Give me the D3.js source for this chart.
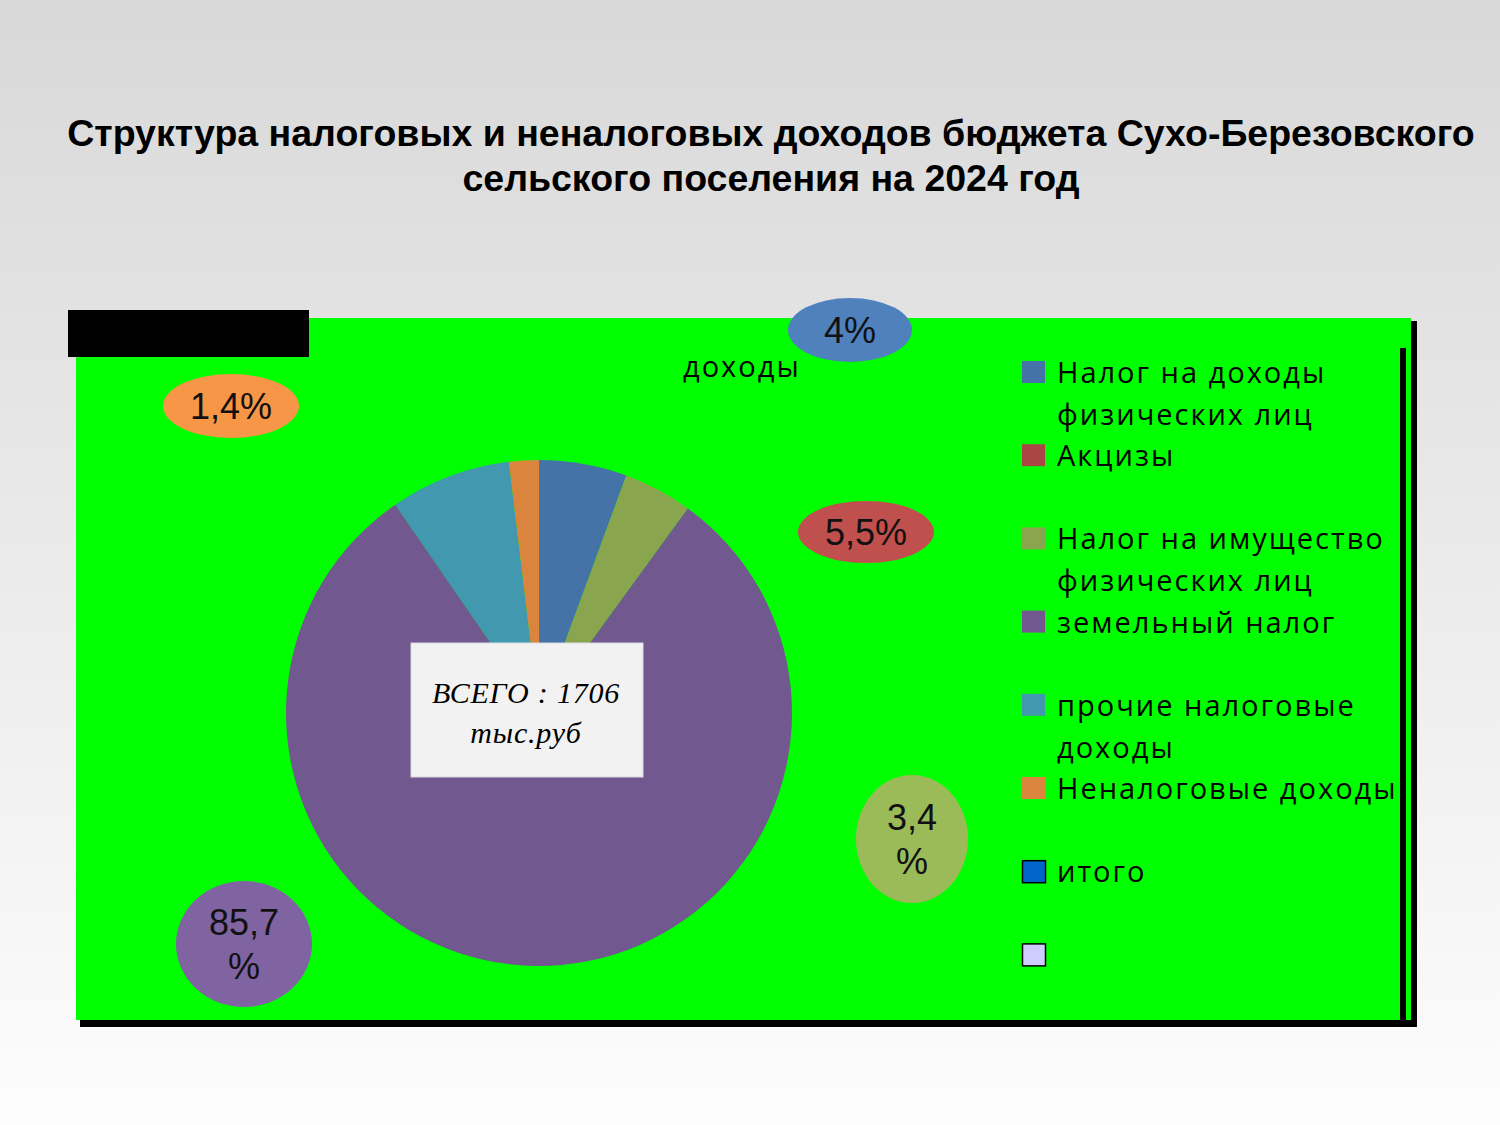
<!DOCTYPE html>
<html>
  <head>
    <meta charset="utf-8">
    <title>Структура доходов</title>
    <script src="https://cdn.jsdelivr.net/npm/d3@7"></script>
    <style>
      body { margin: 0; }
      svg { display: block; }
      .title { font-family: "Liberation Sans", Arial, sans-serif; font-weight: bold; font-size: 37.5px; fill: #000; }
      .legend text, .cap { font-family: "Open Sans", "Noto Sans", sans-serif; font-size: 29px; letter-spacing: 2px; fill: #000; }
      .bubble text { font-family: "Liberation Sans", Arial, sans-serif; font-size: 36px; fill: #111; }
      .total text { font-family: "Liberation Serif", "Times New Roman", serif; font-style: italic; font-size: 30px; letter-spacing: 0.8px; fill: #000; }
    </style>
  </head>
  <body>
    <script>

    const categories = [
      "Налог на доходы физических лиц",
      "Акцизы",
      "Налог на имущество физических лиц",
      "земельный налог",
      "прочие налоговые доходы",
      "Неналоговые доходы",
      "итого",
      ""
    ];
    // legend wraps like the original
    const legendLines = [
      ["Налог на доходы", "физических лиц"],
      ["Акцизы"],
      ["Налог на имущество", "физических лиц"],
      ["земельный налог"],
      ["прочие налоговые", "доходы"],
      ["Неналоговые доходы"],
      ["итого"],
      [""]
    ];
    // share of each slice as drawn in the pie (%)
    const shares = [5.6, 0, 4.4, 80.3, 7.7, 1.9, 0, 0];
    const colors = ["#4572a7", "#aa4643", "#89a54e", "#71588f", "#4198af", "#db843d", "#0066cc", "#ccccff"];
    const boxed = [false, false, false, false, false, false, true, true];

    // percentage call-outs placed on the slide
    const bubbleText = [["4%"], ["1,4%"], ["5,5%"], ["3,4", "%"], ["85,7", "%"]];
    const bubbleColors = ["#4f81bd", "#f79646", "#c0504d", "#9bbb59", "#8064a2"];

    const title = ["Структура налоговых и неналоговых доходов бюджета Сухо-Березовского",
                   "сельского поселения на 2024 год"];
    const totalText = ["ВСЕГО : 1706", "тыс.руб"];

    const W = 1500, H = 1125;
    const svg = d3.select("body").append("svg")
      .attr("width", W).attr("height", H);

    // slide background
    const grad = svg.append("defs").append("linearGradient")
      .attr("id", "bg").attr("x1", 0).attr("y1", 0).attr("x2", 0).attr("y2", 1);
    grad.append("stop").attr("offset", "0%").attr("stop-color", "#d8d8d8");
    grad.append("stop").attr("offset", "100%").attr("stop-color", "#fdfdfd");
    svg.append("rect").attr("width", W).attr("height", H).attr("fill", "url(#bg)");

    svg.selectAll(".title").data(title).enter()
      .append("text")
      .attr("class", "title")
      .attr("x", 771)
      .attr("y", (d, i) => 146 + i * 45)
      .attr("text-anchor", "middle")
      .text(d => d);

    // chart area with shadow
    const area = {x: 76, y: 318, w: 1335, h: 702};
    svg.append("rect")
      .attr("x", area.x + 4).attr("y", area.y + 3)
      .attr("width", area.w + 2).attr("height", area.h + 4)
      .attr("fill", "#000");
    svg.append("rect")
      .attr("x", area.x).attr("y", area.y)
      .attr("width", area.w).attr("height", area.h)
      .attr("fill", "#00ff00");
    svg.append("rect")
      .attr("x", 1400).attr("y", 348)
      .attr("width", 6).attr("height", area.y + area.h - 348)
      .attr("fill", "#000");
    svg.append("rect")
      .attr("x", 68).attr("y", 310)
      .attr("width", 241).attr("height", 47)
      .attr("fill", "#000");

    // pie
    const cx = 539, cy = 713, r = 253;
    const pie = d3.pie().sort(null).value(d => d);
    const arc = d3.arc().innerRadius(0).outerRadius(r);
    svg.append("g")
      .attr("transform", "translate(" + cx + "," + cy + ")")
      .selectAll("path")
      .data(pie(shares)).enter()
      .append("path")
      .attr("d", arc)
      .attr("fill", (d, i) => colors[i]);

    // total box
    const total = svg.append("g").attr("class", "total");
    total.append("rect")
      .attr("x", 411).attr("y", 643)
      .attr("width", 232).attr("height", 134)
      .attr("fill", "#f2f2f2")
      .attr("stroke", "#d9d9e6").attr("stroke-width", 1);
    total.selectAll("text").data(totalText).enter()
      .append("text")
      .attr("x", 526)
      .attr("y", (d, i) => 703 + i * 40)
      .attr("text-anchor", "middle")
      .text(d => d);

    svg.append("text")
      .attr("class", "cap")
      .attr("x", 683).attr("y", 377)
      .text("доходы");

    // bubbles
    const bubblePos = [
      {x: 850, y: 330, rx: 62, ry: 32},
      {x: 231, y: 406, rx: 68, ry: 32},
      {x: 866, y: 532, rx: 68, ry: 31},
      {x: 912, y: 839, rx: 56, ry: 64},
      {x: 244, y: 944, rx: 68, ry: 63}
    ];
    const bubble = svg.selectAll(".bubble")
      .data(bubbleText).enter()
      .append("g")
      .attr("class", "bubble")
      .attr("transform", (d, i) => "translate(" + bubblePos[i].x + "," + bubblePos[i].y + ")");
    bubble.append("ellipse")
      .attr("rx", (d, i) => bubblePos[i].rx)
      .attr("ry", (d, i) => bubblePos[i].ry)
      .attr("fill", (d, i) => bubbleColors[i]);
    bubble.selectAll("text")
      .data(d => d.map((t, j) => ({t: t, j: j, n: d.length})))
      .enter().append("text")
      .attr("text-anchor", "middle")
      .attr("y", d => d.n === 1 ? 13 : (d.j === 0 ? -9 : 35))
      .text(d => d.t);

    // legend
    const legend = svg.append("g").attr("class", "legend");
    const row = legend.selectAll("g")
      .data(categories).enter()
      .append("g")
      .attr("transform", (d, i) => "translate(1022," + (361 + i * 83.2) + ")");
    row.append("rect")
      .attr("x", (d, i) => boxed[i] ? 0.5 : 0)
      .attr("y", (d, i) => boxed[i] ? 0.5 : 0)
      .attr("width", 23).attr("height", 22)
      .attr("fill", (d, i) => colors[i])
      .attr("stroke", (d, i) => boxed[i] ? "#000" : "none")
      .attr("stroke-width", 1.5);
    row.selectAll("text")
      .data((d, i) => legendLines[i])
      .enter().append("text")
      .attr("x", 35)
      .attr("y", (d, j) => 22 + j * 42)
      .text(d => d);

    </script>
  </body>
</html>
